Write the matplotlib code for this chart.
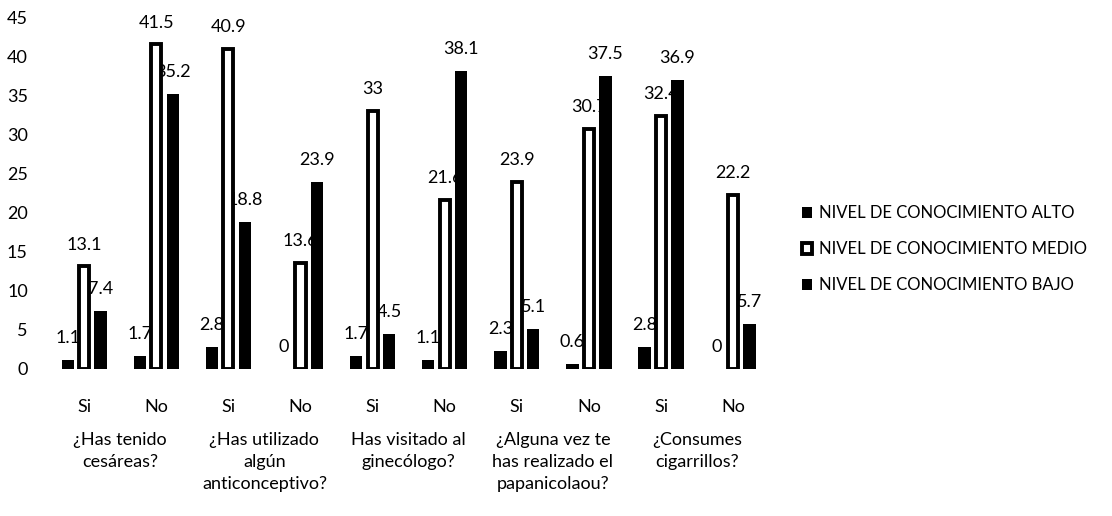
import matplotlib.pyplot as plt
import numpy as np

plt.rcParams['font.family'] = ['Lato', 'DejaVu Sans']

# categories (Si / No under each question)
answers = ['Si', 'No', 'Si', 'No', 'Si', 'No', 'Si', 'No', 'Si', 'No']
questions = ['¿Has tenido\ncesáreas?',
             '¿Has utilizado\nalgún\nanticonceptivo?',
             'Has visitado al\nginecólogo?',
             '¿Alguna vez te\nhas realizado el\npapanicolaou?',
             '¿Consumes\ncigarrillos?']

alto = [1.1, 1.7, 2.8, 0, 1.7, 1.1, 2.3, 0.6, 2.8, 0]
medio = [13.1, 41.5, 40.9, 13.6, 33, 21.6, 23.9, 30.7, 32.4, 22.2]
bajo = [7.4, 35.2, 18.8, 23.9, 4.5, 38.1, 5.1, 37.5, 36.9, 5.7]

series_names = ['NIVEL DE CONOCIMIENTO ALTO',
                'NIVEL DE CONOCIMIENTO MEDIO',
                'NIVEL DE CONOCIMIENTO BAJO']

fig = plt.figure(figsize=(11.12, 5.16), dpi=100)
ax = fig.add_axes([0.04, 0.285, 0.655, 0.682])

x = np.arange(len(answers))
w = 0.17
step = 0.228

b1 = ax.bar(x - step, alto, w, color='black', linewidth=0, zorder=3,
            label=series_names[0])
b2 = ax.bar(x, medio, w - 0.03, color='white', edgecolor='black', linewidth=2.8,
            zorder=3, label=series_names[1])
b3 = ax.bar(x + step, bajo, w, color='black', linewidth=0, zorder=3,
            label=series_names[2])

# value labels drawn beneath the bars so neighbours can cover them
for bars, vals in [(b1, alto), (b2, medio), (b3, bajo)]:
    for rect, v in zip(bars, vals):
        ax.annotate('%g' % v, (rect.get_x() + rect.get_width() / 2, v),
                    xytext=(0, 10), textcoords='offset points',
                    ha='center', va='bottom', fontsize=13, zorder=1)

ax.set_ylim(0, 45)
ax.set_yticks(range(0, 46, 5))
ax.set_xlim(-0.55, len(answers) - 0.45)
ax.set_xticks(x)
ax.set_xticklabels(answers)
ax.tick_params(axis='both', length=0, labelsize=13)
ax.tick_params(axis='x', pad=22)
ax.tick_params(axis='y', pad=12)
for s in ax.spines.values():
    s.set_visible(False)

# question labels under each Si/No pair
for i, q in enumerate(questions):
    ax.text(2 * i + 0.5, -0.18, q, transform=ax.get_xaxis_transform(),
            ha='center', va='top', fontsize=13, linespacing=1.45)

leg = ax.legend(loc='center left', bbox_to_anchor=(1.02, 0.34), frameon=False,
                fontsize=12, handlelength=0.6, handleheight=0.6,
                handletextpad=0.4, labelspacing=1.2)

fig.savefig('out.png', dpi=100)
